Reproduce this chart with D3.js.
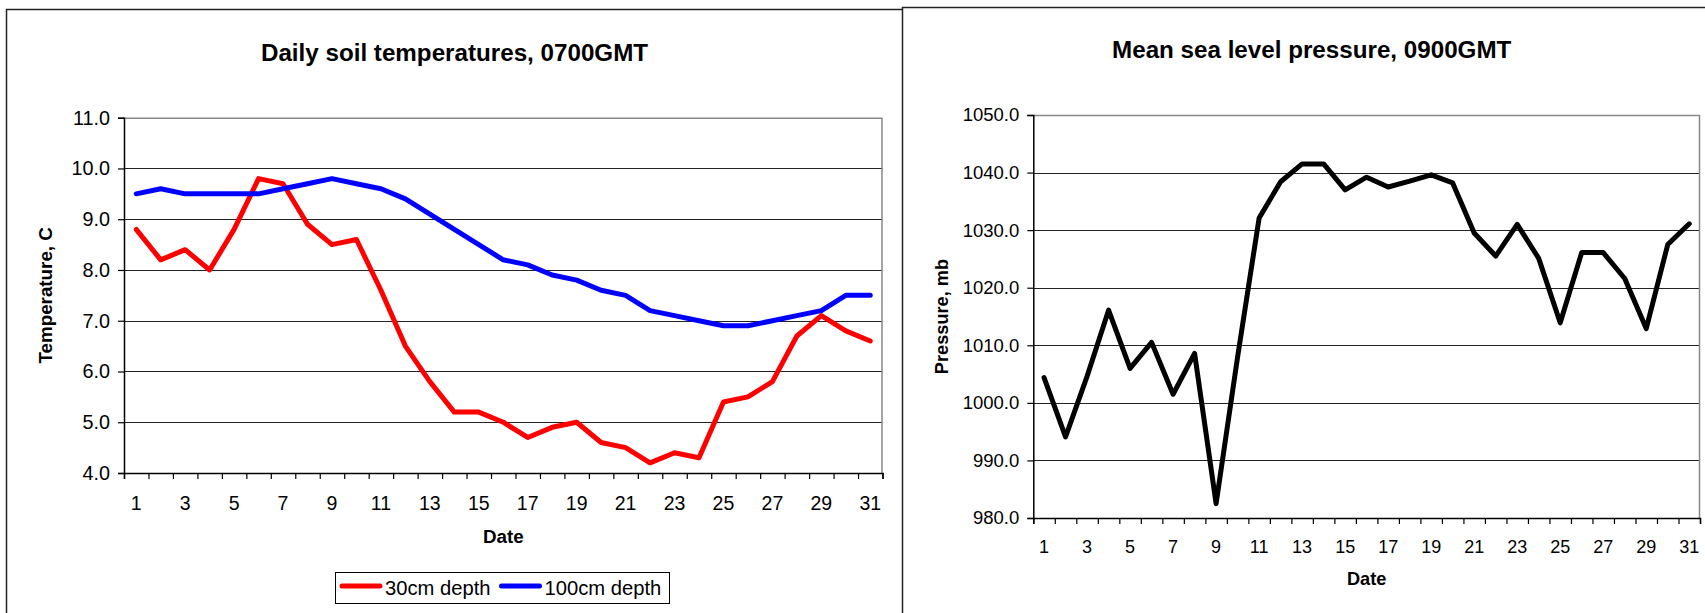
<!DOCTYPE html>
<html>
<head>
<meta charset="utf-8">
<script src="https://cdn.jsdelivr.net/npm/d3@7"></script>
<style>
  body { margin: 0; background: #fff; }
  svg { display: block; font-family: "Liberation Sans", Arial, sans-serif; }
</style>
</head>
<body>
<script>
//Categories (day of month)
var days = [1,2,3,4,5,6,7,8,9,10,11,12,13,14,15,16,17,18,19,20,21,22,23,24,25,26,27,28,29,30,31];
var dayLabels = [1,3,5,7,9,11,13,15,17,19,21,23,25,27,29,31];

//Soil temperatures, C
var temp30 = [8.8,8.2,8.4,8.0,8.8,9.8,9.7,8.9,8.5,8.6,7.6,6.5,5.8,5.2,5.2,5.0,4.7,4.9,5.0,4.6,4.5,4.2,4.4,4.3,5.4,5.5,5.8,6.7,7.1,6.8,6.6];
var temp100 = [9.5,9.6,9.5,9.5,9.5,9.5,9.6,9.7,9.8,9.7,9.6,9.4,9.1,8.8,8.5,8.2,8.1,7.9,7.8,7.6,7.5,7.2,7.1,7.0,6.9,6.9,7.0,7.1,7.2,7.5,7.5];
var tempTicks = [4,5,6,7,8,9,10,11];

//Mean sea level pressure, mb
var pressure = [1004.4,994.1,1004.6,1016.1,1006.0,1010.5,1001.5,1008.6,982.5,1008.0,1032.1,1038.4,1041.5,1041.5,1037.0,1039.2,1037.5,1038.5,1039.6,1038.2,1029.5,1025.5,1031.0,1025.1,1013.9,1026.1,1026.1,1021.6,1012.9,1027.5,1031.1];
var pressTicks = [980,990,1000,1010,1020,1030,1040,1050];

var w = 1705;
var h = 613;

var svg = d3.select("body")
            .append("svg")
            .attr("width", w)
            .attr("height", h);

//Chart frames
svg.append("path")
   .attr("d", "M6.5,625 V9.5 H902")
   .attr("fill", "none")
   .attr("stroke", "#222")
   .attr("stroke-width", 1.5);
svg.append("path")
   .attr("d", "M902.5,625 V7.5 H1720")
   .attr("fill", "none")
   .attr("stroke", "#222")
   .attr("stroke-width", 1.5);

//Draw one panel
function panel(cfg) {
    var x = d3.scaleLinear()
              .domain([0.5, 31.5])
              .range([cfg.left, cfg.right]);
    var y = d3.scaleLinear()
              .domain(cfg.yDomain)
              .range([cfg.bottom, cfg.top]);

    var g = svg.append("g");

    //Gridlines
    g.selectAll("line.grid")
     .data(cfg.yTicks.slice(1, -1))
     .enter()
     .append("line")
     .attr("x1", cfg.left)
     .attr("x2", cfg.right)
     .attr("y1", (d) => Math.round(y(d)) + 0.5)
     .attr("y2", (d) => Math.round(y(d)) + 0.5)
     .attr("stroke", "#222")
     .attr("stroke-width", 1);

    //Plot area top/right border (grey)
    g.append("path")
     .attr("d", "M" + cfg.left + "," + (cfg.top + 0.5) + " H" + (cfg.right - 0.5) + " V" + cfg.bottom)
     .attr("fill", "none")
     .attr("stroke", "#888")
     .attr("stroke-width", 1.5);

    //Y axis
    var yAxis = d3.axisLeft(y)
                  .tickValues(cfg.yTicks)
                  .tickSize(6)
                  .tickPadding(8)
                  .tickFormat(d3.format(".1f"));
    var ya = g.append("g")
              .attr("transform", "translate(" + cfg.left + ",0)")
              .call(yAxis);
    ya.select(".domain").attr("stroke", "#000").attr("stroke-width", 1.5);
    ya.selectAll(".tick line").attr("stroke", "#000").attr("stroke-width", 1.2);
    ya.selectAll(".tick text")
      .attr("font-size", cfg.tickFont)
      .attr("font-family", "Liberation Sans, Arial, sans-serif")
      .attr("fill", "#000");

    //X axis: ticks between categories
    var xTickAxis = d3.axisBottom(x)
                      .tickValues(d3.range(0.5, 32, 1))
                      .tickSize(6)
                      .tickFormat("");
    var xa = g.append("g")
              .attr("transform", "translate(0," + cfg.bottom + ")")
              .call(xTickAxis);
    xa.select(".domain").attr("stroke", "#000").attr("stroke-width", 1.5);
    xa.selectAll(".tick line").attr("stroke", "#000").attr("stroke-width", 1.2);

    //X labels at odd days
    g.selectAll("text.xlab")
     .data(dayLabels)
     .enter()
     .append("text")
     .attr("x", (d) => x(d))
     .attr("y", cfg.xLabelY)
     .attr("dy", "0.35em")
     .attr("text-anchor", "middle")
     .attr("font-size", cfg.xTickFont)
     .attr("fill", "#000")
     .text((d) => d);

    //Title
    g.append("text")
     .attr("x", cfg.titleX)
     .attr("y", cfg.titleY)
     .attr("text-anchor", "middle")
     .attr("font-size", "24.2px")
     .attr("font-weight", "bold")
     .text(cfg.title);

    //Axis titles
    g.append("text")
     .attr("x", (cfg.left + cfg.right) / 2)
     .attr("y", cfg.dateY)
     .attr("text-anchor", "middle")
     .attr("font-size", cfg.labelFont)
     .attr("font-weight", "bold")
     .text("Date");
    g.append("text")
     .attr("transform", "translate(" + cfg.yLabelX + "," + (cfg.top + cfg.bottom) / 2 + ") rotate(-90)")
     .attr("text-anchor", "middle")
     .attr("font-size", cfg.labelFont)
     .attr("font-weight", "bold")
     .text(cfg.yLabel);

    //Series lines
    var line = d3.line()
                 .x((d, i) => x(days[i]))
                 .y((d) => y(d));
    cfg.series.forEach((s) => {
        g.append("path")
         .datum(s.values)
         .attr("d", line)
         .attr("fill", "none")
         .attr("stroke", s.color)
         .attr("stroke-width", 5)
         .attr("stroke-linejoin", "round")
         .attr("stroke-linecap", "round");
    });
}

panel({
    left: 124, right: 882.5, top: 117.7, bottom: 473,
    yDomain: [4, 11], yTicks: tempTicks,
    tickFont: "19.8px", xTickFont: "19.5px", labelFont: "18.8px",
    xLabelY: 503, dateY: 543,
    yLabelX: 52, yLabel: "Temperature, C",
    titleX: 454.5, titleY: 60.5,
    title: "Daily soil temperatures, 0700GMT",
    series: [
        { values: temp30, color: "#ff0000" },
        { values: temp100, color: "#0000ff" }
    ]
});

panel({
    left: 1033.3, right: 1700, top: 115, bottom: 518,
    yDomain: [980, 1050], yTicks: pressTicks,
    tickFont: "18.5px", xTickFont: "18px", labelFont: "18.2px",
    xLabelY: 546.7, dateY: 585,
    yLabelX: 948, yLabel: "Pressure, mb",
    titleX: 1311.7, titleY: 58.3,
    title: "Mean sea level pressure, 0900GMT",
    series: [
        { values: pressure, color: "#000000" }
    ]
});

//Legend for the soil panel
var legendItems = [
    { name: "30cm depth", color: "#ff0000", x: 340 },
    { name: "100cm depth", color: "#0000ff", x: 499.5 }
];
svg.append("rect")
   .attr("x", 335.5)
   .attr("y", 572.5)
   .attr("width", 334)
   .attr("height", 31)
   .attr("fill", "#fff")
   .attr("stroke", "#000")
   .attr("stroke-width", 1);
var leg = svg.selectAll("g.legend")
             .data(legendItems)
             .enter()
             .append("g");
leg.append("line")
   .attr("x1", (d) => d.x + 2)
   .attr("x2", (d) => d.x + 40)
   .attr("y1", 586)
   .attr("y2", 586)
   .attr("stroke", (d) => d.color)
   .attr("stroke-width", 5)
   .attr("stroke-linecap", "round");
leg.append("text")
   .attr("x", (d) => d.x + 45)
   .attr("y", 595)
   .attr("font-size", "20.2px")
   .attr("fill", "#000")
   .text((d) => d.name);
</script>
</body>
</html>
